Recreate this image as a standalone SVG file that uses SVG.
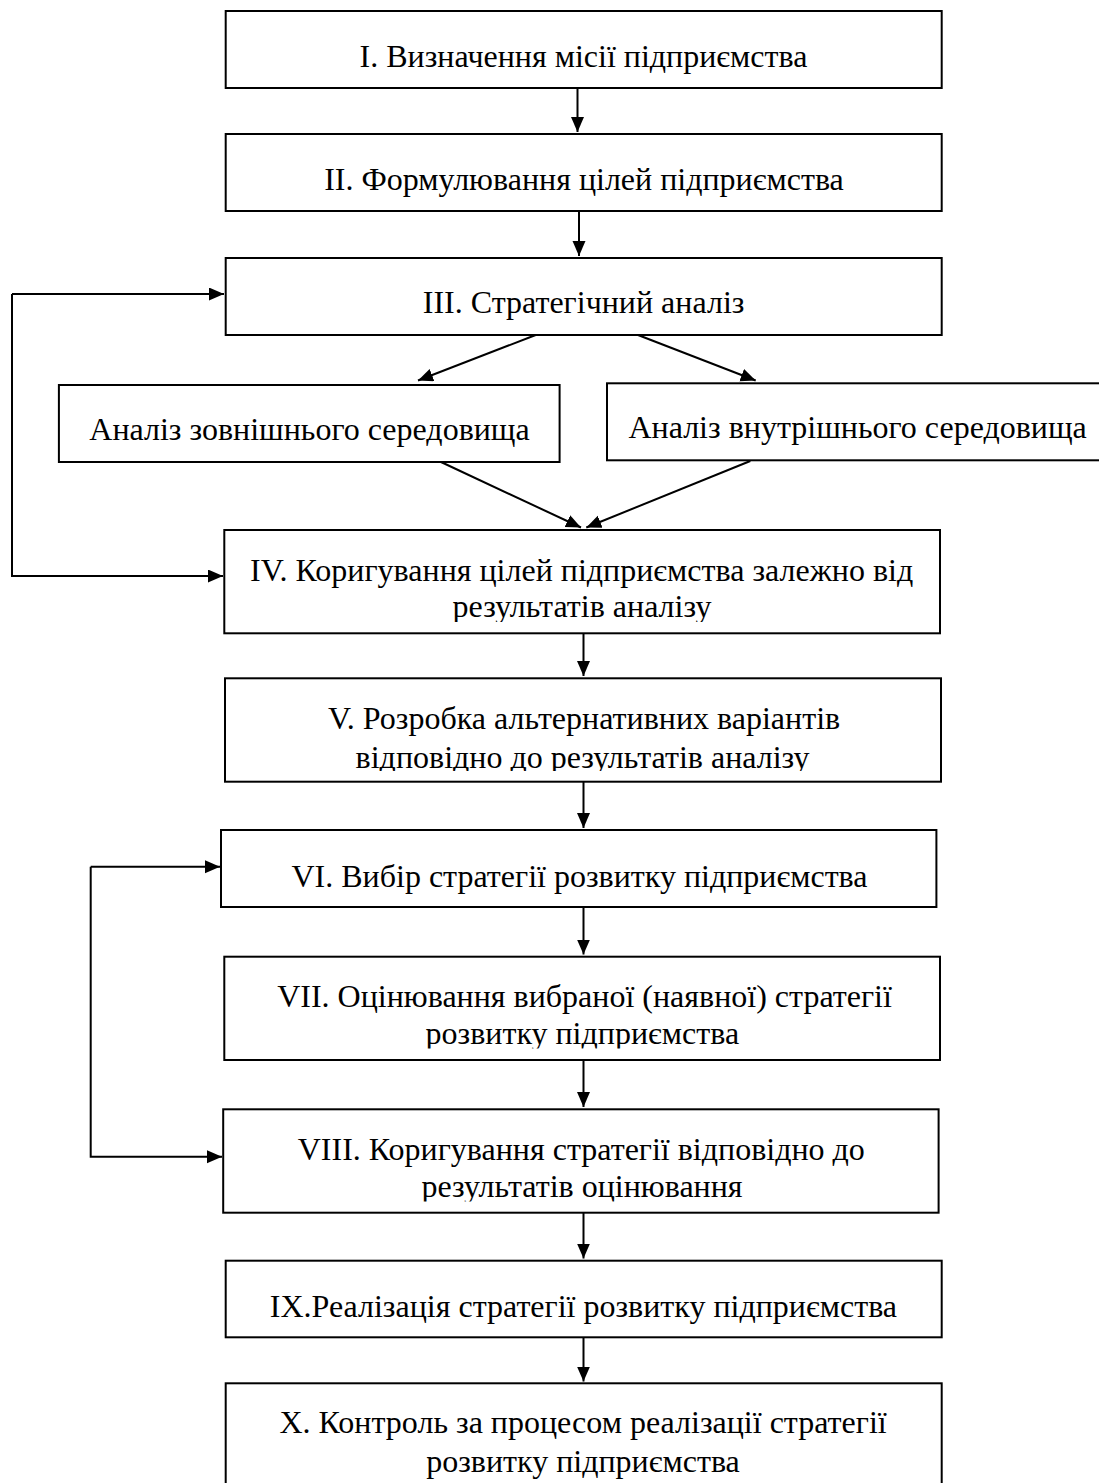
<svg xmlns="http://www.w3.org/2000/svg" width="1099" height="1483" viewBox="0 0 1099 1483">
<style>
.box{fill:#fff;stroke:#000;stroke-width:2}
.t{font-family:"Liberation Serif","Times New Roman",serif;font-size:32px;fill:#000;text-anchor:middle}
.c{fill:none;stroke:#000;stroke-width:2}
</style>
<defs>
<marker id="ah" markerUnits="userSpaceOnUse" markerWidth="16" markerHeight="14" refX="15" refY="6.5" orient="auto">
<path d="M0,0 L15,6.5 L0,13 z" fill="#000"/>
</marker>
<clipPath id="c4"><rect x="200" y="525" width="760" height="97"/></clipPath>
<clipPath id="c5"><rect x="200" y="673" width="760" height="98"/></clipPath>
<clipPath id="c7"><rect x="200" y="950" width="760" height="98.5"/></clipPath>
<clipPath id="c8"><rect x="200" y="1104" width="760" height="97.5"/></clipPath>
</defs>
<rect x="0" y="0" width="1099" height="1483" fill="#fff"/>
<g id="connectors">
<path class="c" d="M577.5,88 V132" marker-end="url(#ah)"/>
<path class="c" d="M579,211 V256" marker-end="url(#ah)"/>
<path class="c" d="M535.7,335 L418,380.5" marker-end="url(#ah)"/>
<path class="c" d="M638,335 L755.7,380.5" marker-end="url(#ah)"/>
<path class="c" d="M441,462 L581,527.5" marker-end="url(#ah)"/>
<path class="c" d="M750.3,461 L586.3,527.5" marker-end="url(#ah)"/>
<path class="c" d="M12,294 H224" marker-end="url(#ah)"/>
<path class="c" d="M12,294 V576 H223" marker-end="url(#ah)"/>
<path class="c" d="M583.5,633.5 V676" marker-end="url(#ah)"/>
<path class="c" d="M583.5,782 V828" marker-end="url(#ah)"/>
<path class="c" d="M90.7,866.7 H220" marker-end="url(#ah)"/>
<path class="c" d="M90.7,866.7 V1156.7 H222" marker-end="url(#ah)"/>
<path class="c" d="M583.5,907.5 V954.5" marker-end="url(#ah)"/>
<path class="c" d="M583.5,1060.5 V1107" marker-end="url(#ah)"/>
<path class="c" d="M583.5,1213 V1258.5" marker-end="url(#ah)"/>
<path class="c" d="M583.5,1337.5 V1381.5" marker-end="url(#ah)"/>
</g>
<g id="n1">
<rect class="box" x="225.7" y="11" width="716" height="77"/>
<text class="t" x="583.5" y="66.7">I. Визначення місії підприємства</text>
</g>
<g id="n2">
<rect class="box" x="225.7" y="134" width="716" height="77"/>
<text class="t" x="584" y="190">II. Формулювання цілей підприємства</text>
</g>
<g id="n3">
<rect class="box" x="225.7" y="258" width="716" height="77"/>
<text class="t" x="583.6" y="313">III. Стратегічний аналіз</text>
</g>
<g id="nA">
<rect class="box" x="58.9" y="385" width="500.7" height="77"/>
<text class="t" x="309.5" y="440">Аналіз зовнішнього середовища</text>
</g>
<g id="nB">
<rect class="box" x="607" y="383.3" width="505" height="77"/>
<text class="t" x="857.6" y="438.3">Аналіз внутрішнього середовища</text>
</g>
<g id="n4">
<rect class="box" x="224.3" y="530" width="715.7" height="103.3"/>
<g clip-path="url(#c4)">
<text class="t" x="581.6" y="580.7">IV. Коригування цілей підприємства залежно від</text>
<text class="t" x="582" y="617">результатів аналізу</text>
</g>
</g>
<g id="n5">
<rect class="box" x="225" y="678.3" width="716" height="103.4"/>
<g clip-path="url(#c5)">
<text class="t" x="584" y="729.3">V. Розробка альтернативних варіантів</text>
<text class="t" x="582.6" y="767.7">відповідно до результатів аналізу</text>
</g>
</g>
<g id="n6">
<rect class="box" x="221" y="830" width="715.4" height="77"/>
<text class="t" x="579.5" y="886.7">VI. Вибір стратегії розвитку підприємства</text>
</g>
<g id="n7">
<rect class="box" x="224.3" y="956.7" width="715.7" height="103.3"/>
<g clip-path="url(#c7)">
<text class="t" x="584.5" y="1006.7">VII. Оцінювання вибраної (наявної) стратегії</text>
<text class="t" x="582.3" y="1044">розвитку підприємства</text>
</g>
</g>
<g id="n8">
<rect class="box" x="223.2" y="1109.3" width="715.4" height="103.4"/>
<g clip-path="url(#c8)">
<text class="t" x="581.3" y="1160">VIII. Коригування стратегії відповідно до</text>
<text class="t" x="582" y="1196.7">результатів оцінювання</text>
</g>
</g>
<g id="n9">
<rect class="box" x="225.7" y="1260.7" width="716" height="76.6"/>
<text class="t" x="583.4" y="1316.7">IX.Реалізація стратегії розвитку підприємства</text>
</g>
<g id="n10">
<rect class="box" x="225.7" y="1383.3" width="716" height="110"/>
<text class="t" x="583.1" y="1433.3">X. Контроль за процесом реалізації стратегії</text>
<text class="t" x="583" y="1471.7">розвитку підприємства</text>
</g>
</svg>
